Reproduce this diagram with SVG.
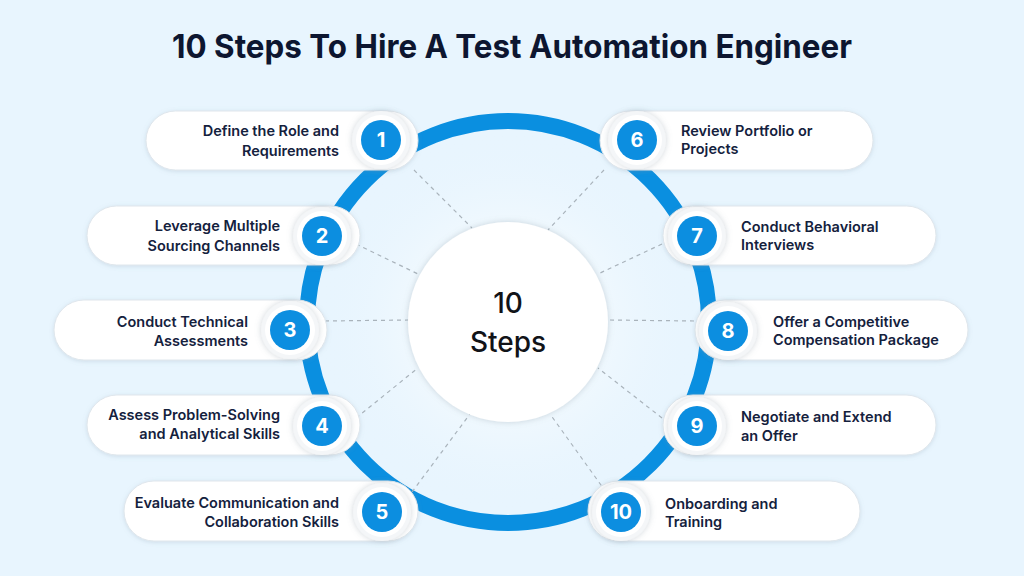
<svg xmlns="http://www.w3.org/2000/svg" width="1024" height="576" viewBox="0 0 1024 576">
<defs>
<filter id="sh" x="-20%" y="-40%" width="140%" height="180%"><feDropShadow dx="0" dy="1" stdDeviation="2" flood-color="#7a93a8" flood-opacity="0.25"/></filter>
<filter id="sh2" x="-50%" y="-50%" width="200%" height="200%"><feDropShadow dx="0" dy="0" stdDeviation="3" flood-color="#7a8a99" flood-opacity="0.35"/></filter>
<radialGradient id="glow" cx="0.5" cy="0.5" r="0.5"><stop offset="0.5" stop-color="#ffffff" stop-opacity="0.35"/><stop offset="1" stop-color="#e6f3fc" stop-opacity="0"/></radialGradient>
</defs>
<style>
.pill{fill:#ffffff;stroke:#dfe6ec;stroke-width:1;filter:url(#sh)}
.halo{fill:#f4f6f8;filter:url(#sh2)}
.wr{fill:#ffffff}
.num{fill:#0c8ee0}
.nt{font-family:Inter,"Noto Sans",sans-serif;font-weight:700;font-size:20px;fill:#ffffff;text-anchor:middle}
.lt{font-family:Inter,"Noto Sans",sans-serif;font-weight:600;font-size:14.5px;fill:#14213d}
.l{text-anchor:end}
.dash{stroke:#a9b3bb;stroke-width:1.2;stroke-dasharray:4 4;fill:none}
</style>
<rect width="1024" height="576" fill="#e8f5fe"/>
<text x="512" y="58" font-family="Inter,'Noto Sans',sans-serif" font-weight="700" font-size="33" fill="#0d1630" text-anchor="middle" textLength="680" lengthAdjust="spacingAndGlyphs">10 Steps To Hire A Test Automation Engineer</text>
<circle cx="508" cy="322" r="190" fill="url(#glow)"/>
<circle cx="508" cy="322" r="201" fill="none" stroke="#0a8fe0" stroke-width="16"/>
<g id="connectors">
<line class="dash" x1="414" y1="170" x2="472" y2="228"/>
<line class="dash" x1="356" y1="244" x2="418" y2="274"/>
<line class="dash" x1="325" y1="321" x2="408" y2="320"/>
<line class="dash" x1="356" y1="418" x2="418" y2="368"/>
<line class="dash" x1="412" y1="492" x2="470" y2="414"/>
<line class="dash" x1="604" y1="170" x2="548" y2="230"/>
<line class="dash" x1="662" y1="244" x2="598" y2="274"/>
<line class="dash" x1="694" y1="321" x2="608" y2="320"/>
<line class="dash" x1="662" y1="418" x2="598" y2="368"/>
<line class="dash" x1="606" y1="492" x2="550" y2="414"/>
</g>
<g id="center">
<circle cx="508" cy="322" r="100" fill="#ffffff" filter="url(#sh2)"/>
<text x="508" y="313" font-family="Inter,'Noto Sans',sans-serif" font-weight="500" font-size="28" fill="#111318" text-anchor="middle">10</text>
<text x="508" y="352" font-family="Inter,'Noto Sans',sans-serif" font-weight="500" font-size="28" fill="#111318" text-anchor="middle">Steps</text>
</g>
<g id="step1">
<rect class="pill" x="146" y="111" width="272" height="59" rx="29.5"/>
<circle class="halo" cx="381" cy="140" r="29"/><circle class="wr" cx="381" cy="140" r="25"/><circle class="num" cx="381" cy="140" r="20"/>
<text class="nt" x="381" y="147">1</text>
<text class="lt l" x="339" y="136">Define the Role and</text><text class="lt l" x="339" y="156">Requirements</text>
</g>
<g id="step2">
<rect class="pill" x="87" y="206" width="273" height="59" rx="29.5"/>
<circle class="halo" cx="322" cy="236" r="29"/><circle class="wr" cx="322" cy="236" r="25"/><circle class="num" cx="322" cy="236" r="20"/>
<text class="nt" x="322" y="243">2</text>
<text class="lt l" x="280" y="231">Leverage Multiple</text><text class="lt l" x="280" y="251">Sourcing Channels</text>
</g>
<g id="step3">
<rect class="pill" x="54" y="300" width="273" height="60" rx="30"/>
<circle class="halo" cx="290" cy="330" r="29"/><circle class="wr" cx="290" cy="330" r="25"/><circle class="num" cx="290" cy="330" r="20"/>
<text class="nt" x="290" y="337">3</text>
<text class="lt l" x="248" y="327">Conduct Technical</text><text class="lt l" x="248" y="346">Assessments</text>
</g>
<g id="step4">
<rect class="pill" x="87" y="395" width="273" height="60" rx="30"/>
<circle class="halo" cx="322" cy="426" r="29"/><circle class="wr" cx="322" cy="426" r="25"/><circle class="num" cx="322" cy="426" r="20"/>
<text class="nt" x="322" y="433">4</text>
<text class="lt l" x="280" y="420">Assess Problem-Solving</text><text class="lt l" x="280" y="439">and Analytical Skills</text>
</g>
<g id="step5">
<rect class="pill" x="124" y="481" width="294" height="60" rx="30"/>
<circle class="halo" cx="382" cy="512" r="29"/><circle class="wr" cx="382" cy="512" r="25"/><circle class="num" cx="382" cy="512" r="20"/>
<text class="nt" x="382" y="519">5</text>
<text class="lt l" x="339" y="508">Evaluate Communication and</text><text class="lt l" x="339" y="527">Collaboration Skills</text>
</g>
<g id="step6">
<rect class="pill" x="600" y="111" width="273" height="59" rx="29.5"/>
<circle class="halo" cx="637" cy="140" r="29"/><circle class="wr" cx="637" cy="140" r="25"/><circle class="num" cx="637" cy="140" r="20"/>
<text class="nt" x="637" y="147">6</text>
<text class="lt" x="681" y="136">Review Portfolio or</text><text class="lt" x="681" y="154">Projects</text>
</g>
<g id="step7">
<rect class="pill" x="663" y="206" width="273" height="59" rx="29.5"/>
<circle class="halo" cx="697" cy="236" r="29"/><circle class="wr" cx="697" cy="236" r="25"/><circle class="num" cx="697" cy="236" r="20"/>
<text class="nt" x="697" y="243">7</text>
<text class="lt" x="741" y="232">Conduct Behavioral</text><text class="lt" x="741" y="250">Interviews</text>
</g>
<g id="step8">
<rect class="pill" x="695" y="300" width="273" height="60" rx="30"/>
<circle class="halo" cx="728" cy="331" r="29"/><circle class="wr" cx="728" cy="331" r="25"/><circle class="num" cx="728" cy="331" r="20"/>
<text class="nt" x="728" y="338">8</text>
<text class="lt" x="773" y="327">Offer a Competitive</text><text class="lt" x="773" y="345">Compensation Package</text>
</g>
<g id="step9">
<rect class="pill" x="663" y="395" width="273" height="60" rx="30"/>
<circle class="halo" cx="697" cy="426" r="29"/><circle class="wr" cx="697" cy="426" r="25"/><circle class="num" cx="697" cy="426" r="20"/>
<text class="nt" x="697" y="433">9</text>
<text class="lt" x="741" y="422">Negotiate and Extend</text><text class="lt" x="741" y="441">an Offer</text>
</g>
<g id="step10">
<rect class="pill" x="588" y="481" width="272" height="60" rx="30"/>
<circle class="halo" cx="621" cy="512" r="29"/><circle class="wr" cx="621" cy="512" r="25"/><circle class="num" cx="621" cy="512" r="20"/>
<text class="nt" x="621" y="519">10</text>
<text class="lt" x="665" y="509">Onboarding and</text><text class="lt" x="665" y="527">Training</text>
</g>
</svg>
